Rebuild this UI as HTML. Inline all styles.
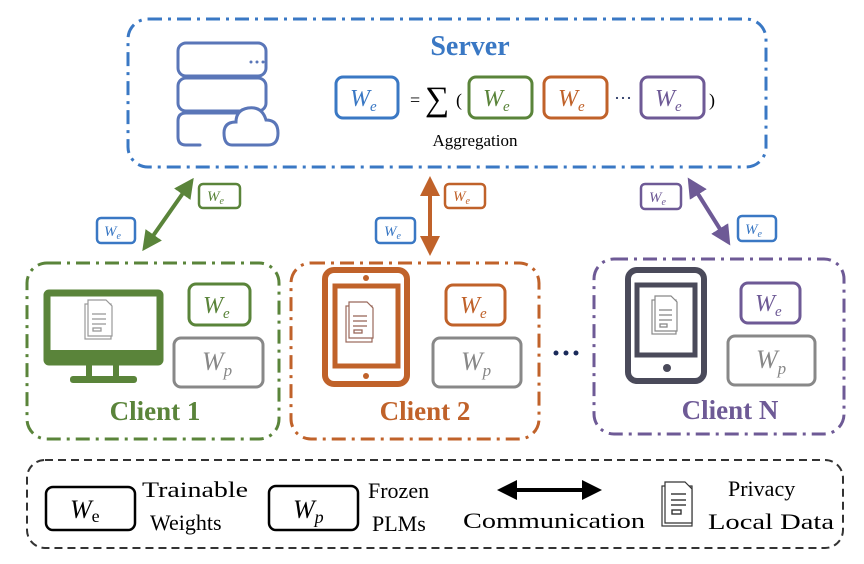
<!DOCTYPE html>
<html><head><meta charset="utf-8"><style>
html,body{margin:0;padding:0;background:#fff;width:864px;height:564px;overflow:hidden}
text{font-family:"Liberation Serif",serif}
</style></head><body>
<svg width="864" height="564" viewBox="0 0 864 564" xmlns="http://www.w3.org/2000/svg">
<defs>
<marker id="ag" markerWidth="5" markerHeight="5" refX="2.5" refY="2.5" orient="auto-start-reverse" markerUnits="strokeWidth"><path d="M0,0 L5,2.5 L0,5 z" fill="#5a843a"/></marker>
<marker id="ao" markerWidth="5" markerHeight="5" refX="2.5" refY="2.5" orient="auto-start-reverse" markerUnits="strokeWidth"><path d="M0,0 L5,2.5 L0,5 z" fill="#c0622a"/></marker>
<marker id="ap" markerWidth="5" markerHeight="5" refX="2.5" refY="2.5" orient="auto-start-reverse" markerUnits="strokeWidth"><path d="M0,0 L5,2.5 L0,5 z" fill="#6e5a96"/></marker>
<marker id="ak" markerWidth="5" markerHeight="5" refX="2.5" refY="2.5" orient="auto-start-reverse" markerUnits="strokeWidth"><path d="M0,0 L5,2.5 L0,5 z" fill="#000"/></marker>
</defs>
<!-- Server -->
<rect x="128" y="19" width="638" height="148" rx="20" fill="none" stroke="#3a78c4" stroke-width="3" stroke-dasharray="14 6 3 6"/>
<g fill="none" stroke="#5a76b8" stroke-width="3" stroke-linecap="round">
<rect x="178" y="43" width="88" height="33" rx="8"/>
<rect x="178" y="78" width="88" height="33" rx="8"/>
<path d="M200 145 H186 Q178 145 178 137 V121 Q178 113 186 113 H240"/>
<path d="M232 145 H268 Q278 145 278 133 Q278 120 266 120 Q262 106 248 108 Q236 110 236 122 Q224 122 224 133 Q224 145 232 145Z" fill="#fff"/>
</g>
<g fill="#5a76b8"><circle cx="251" cy="62" r="1.5"/><circle cx="257" cy="62" r="1.5"/><circle cx="263" cy="62" r="1.5"/></g>
<text x="470" y="55" font-size="28" font-weight="bold" fill="#3a78c4" text-anchor="middle">Server</text>
<g stroke-width="3" fill="#fff">
<rect x="336" y="77" width="62" height="41" rx="7" stroke="#3a78c4"/>
<rect x="469" y="77" width="63" height="41" rx="7" stroke="#5a843a"/>
<rect x="544" y="77" width="63" height="41" rx="7" stroke="#c0622a"/>
<rect x="641" y="77" width="63" height="41" rx="7" stroke="#6e5a96"/>
</g>
<g font-size="24" font-style="italic">
<text x="350" y="106" fill="#3a78c4">W<tspan font-size="15" dy="5">e</tspan></text>
<text x="483" y="106" fill="#5a843a">W<tspan font-size="15" dy="5">e</tspan></text>
<text x="558" y="106" fill="#c0622a">W<tspan font-size="15" dy="5">e</tspan></text>
<text x="655" y="106" fill="#6e5a96">W<tspan font-size="15" dy="5">e</tspan></text>
</g>
<text x="410" y="106" font-size="18">=</text>
<text x="425" y="110" font-size="34">∑</text>
<text x="456" y="106" font-size="18">(</text>
<text x="614" y="104" font-size="18" fill="#1a2a5a">···</text>
<text x="709" y="106" font-size="18">)</text>
<text x="475" y="146" font-size="17" text-anchor="middle">Aggregation</text>
<!-- arrows -->
<line x1="148" y1="243" x2="188" y2="186" stroke="#5a843a" stroke-width="4" marker-start="url(#ag)" marker-end="url(#ag)"/>
<line x1="430" y1="246" x2="430" y2="186" stroke="#c0622a" stroke-width="4" marker-start="url(#ao)" marker-end="url(#ao)"/>
<line x1="725" y1="237" x2="693" y2="186" stroke="#6e5a96" stroke-width="4" marker-start="url(#ap)" marker-end="url(#ap)"/>
<g stroke-width="2.5" fill="#fff">
<rect x="199" y="184" width="41" height="24" rx="4" stroke="#5a843a"/>
<rect x="97" y="218" width="38" height="25" rx="4" stroke="#3a78c4"/>
<rect x="445" y="184" width="40" height="24" rx="4" stroke="#c0622a"/>
<rect x="376" y="218" width="39" height="25" rx="4" stroke="#3a78c4"/>
<rect x="641" y="184" width="40" height="25" rx="4" stroke="#6e5a96"/>
<rect x="738" y="216" width="38" height="25" rx="4" stroke="#3a78c4"/>
</g>
<g font-size="15" font-style="italic">
<text x="207" y="201" fill="#5a843a">W<tspan font-size="10" dy="3">e</tspan></text>
<text x="104" y="236" fill="#3a78c4">W<tspan font-size="10" dy="3">e</tspan></text>
<text x="453" y="201" fill="#c0622a">W<tspan font-size="10" dy="3">e</tspan></text>
<text x="384" y="236" fill="#3a78c4">W<tspan font-size="10" dy="3">e</tspan></text>
<text x="649" y="202" fill="#6e5a96">W<tspan font-size="10" dy="3">e</tspan></text>
<text x="745" y="234" fill="#3a78c4">W<tspan font-size="10" dy="3">e</tspan></text>
</g>
<!-- Client 1 -->
<rect x="27" y="263" width="252" height="176" rx="20" fill="none" stroke="#5a843a" stroke-width="3" stroke-dasharray="14 6 3 6"/>
<rect x="47" y="293" width="113" height="69" rx="2" fill="none" stroke="#5a843a" stroke-width="7"/>
<rect x="47" y="350" width="113" height="12" fill="#5a843a"/>
<rect x="86" y="362" width="6" height="15" fill="#5a843a"/><rect x="113" y="362" width="6" height="15" fill="#5a843a"/>
<rect x="70" y="376" width="67" height="7" rx="3" fill="#5a843a"/>
<g fill="#fff" stroke="#999" stroke-width="1.2"><rect x="85" y="304" width="26" height="35"/><path d="M88 300 h18 l6 6 v30 h-24z"/></g>
<g stroke="#999" stroke-width="1.3"><line x1="92" y1="314" x2="106" y2="314"/><line x1="92" y1="319" x2="106" y2="319"/><line x1="92" y1="324" x2="106" y2="324"/><rect x="93" y="328" width="8" height="3" fill="none"/></g>
<rect x="189" y="284" width="61" height="41" rx="7" fill="none" stroke="#5a843a" stroke-width="3"/>
<rect x="174" y="338" width="89" height="49" rx="7" fill="none" stroke="#888" stroke-width="3"/>
<text x="203" y="313" font-size="24" font-style="italic" fill="#5a843a">W<tspan font-size="15" dy="5">e</tspan></text>
<text x="202" y="370" font-size="26" font-style="italic" fill="#888">W<tspan font-size="17" dy="6">p</tspan></text>
<text x="155" y="420" font-size="27" font-weight="bold" fill="#5a843a" text-anchor="middle">Client 1</text>
<!-- Client 2 -->
<rect x="291" y="263" width="248" height="176" rx="20" fill="none" stroke="#c0622a" stroke-width="3" stroke-dasharray="14 6 3 6"/>
<rect x="325" y="270" width="82" height="114" rx="9" fill="none" stroke="#c0622a" stroke-width="6"/>
<rect x="335" y="286" width="63" height="80" fill="none" stroke="#c0622a" stroke-width="5"/>
<circle cx="366" cy="278" r="3" fill="#c0622a"/><circle cx="366" cy="376" r="3" fill="#c0622a"/>
<g fill="#fff" stroke="#99685a" stroke-width="1.2"><rect x="346" y="306" width="26" height="36"/><path d="M349 302 h18 l6 6 v30 h-24z"/></g>
<g stroke="#99685a" stroke-width="1.3"><line x1="353" y1="316" x2="367" y2="316"/><line x1="353" y1="321" x2="367" y2="321"/><line x1="353" y1="326" x2="367" y2="326"/><rect x="354" y="330" width="8" height="3" fill="none"/></g>
<rect x="446" y="285" width="59" height="40" rx="7" fill="none" stroke="#c0622a" stroke-width="3"/>
<rect x="433" y="338" width="88" height="49" rx="7" fill="none" stroke="#888" stroke-width="3"/>
<text x="460" y="313" font-size="24" font-style="italic" fill="#c0622a">W<tspan font-size="15" dy="5">e</tspan></text>
<text x="461" y="370" font-size="26" font-style="italic" fill="#888">W<tspan font-size="17" dy="6">p</tspan></text>
<text x="425" y="420" font-size="27" font-weight="bold" fill="#c0622a" text-anchor="middle">Client 2</text>
<g fill="#1a2a5a"><circle cx="556" cy="353" r="2.5"/><circle cx="566" cy="353" r="2.5"/><circle cx="576" cy="353" r="2.5"/></g>
<!-- Client N -->
<rect x="594" y="259" width="250" height="175" rx="20" fill="none" stroke="#6e5a96" stroke-width="3" stroke-dasharray="14 6 3 6"/>
<rect x="628" y="270" width="76" height="111" rx="9" fill="#fff" stroke="#4a4a5a" stroke-width="6"/>
<rect x="637" y="285" width="58" height="70" fill="none" stroke="#4a4a5a" stroke-width="5"/>
<circle cx="667" cy="368" r="4" fill="#4a4a5a"/>
<g fill="#fff" stroke="#888" stroke-width="1.2"><rect x="652" y="300" width="24" height="34"/><path d="M655 296 h16 l6 6 v29 h-22z"/></g>
<g stroke="#888" stroke-width="1.3"><line x1="659" y1="310" x2="672" y2="310"/><line x1="659" y1="315" x2="672" y2="315"/><line x1="659" y1="320" x2="672" y2="320"/><rect x="660" y="324" width="7" height="3" fill="none"/></g>
<rect x="741" y="283" width="59" height="40" rx="7" fill="none" stroke="#6e5a96" stroke-width="3"/>
<rect x="728" y="336" width="87" height="49" rx="7" fill="none" stroke="#888" stroke-width="3"/>
<text x="755" y="311" font-size="24" font-style="italic" fill="#6e5a96">W<tspan font-size="15" dy="5">e</tspan></text>
<text x="756" y="368" font-size="26" font-style="italic" fill="#888">W<tspan font-size="17" dy="6">p</tspan></text>
<text x="730" y="419" font-size="27" font-weight="bold" fill="#6e5a96" text-anchor="middle">Client N</text>
<!-- Legend -->
<rect x="27" y="460" width="816" height="88" rx="18" fill="none" stroke="#333" stroke-width="2" stroke-dasharray="8 5"/>
<rect x="46" y="487" width="89" height="43" rx="7" fill="none" stroke="#000" stroke-width="2.5"/>
<text x="70" y="518" font-size="26" font-style="italic">W<tspan font-size="18" font-style="normal" dy="4">e</tspan></text>
<text x="142" y="497" font-size="22" textLength="106" lengthAdjust="spacingAndGlyphs">Trainable</text>
<text x="150" y="530" font-size="22">Weights</text>
<rect x="269" y="486" width="89" height="44" rx="7" fill="none" stroke="#000" stroke-width="2.5"/>
<text x="293" y="518" font-size="26" font-style="italic">W<tspan font-size="18" dy="5">p</tspan></text>
<text x="368" y="498" font-size="22">Frozen</text>
<text x="372" y="531" font-size="22">PLMs</text>
<line x1="507" y1="490" x2="592" y2="490" stroke="#000" stroke-width="4" marker-start="url(#ak)" marker-end="url(#ak)"/>
<text x="463" y="528" font-size="22" textLength="182" lengthAdjust="spacingAndGlyphs">Communication</text>
<g fill="#fff" stroke="#333" stroke-width="1.2"><rect x="662" y="486" width="30" height="40"/><path d="M665 482 h20 l7 7 v34 h-27z"/></g>
<g stroke="#333" stroke-width="1.4"><line x1="671" y1="494" x2="686" y2="494"/><line x1="671" y1="500" x2="686" y2="500"/><line x1="671" y1="505" x2="686" y2="505"/><rect x="672" y="510" width="9" height="4" fill="none"/></g>
<text x="728" y="496" font-size="22">Privacy</text>
<text x="708" y="529" font-size="22" textLength="126" lengthAdjust="spacingAndGlyphs">Local Data</text>
</svg>
</body></html>
